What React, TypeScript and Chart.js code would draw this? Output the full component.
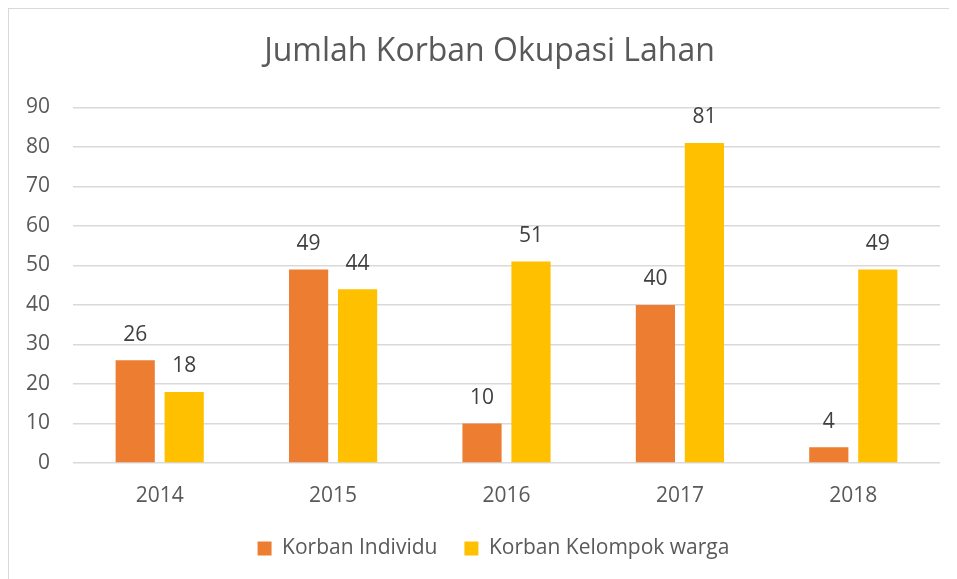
import React, { useEffect, useRef } from "react";
import { Chart, registerables } from "chart.js";

Chart.register(...registerables);

const categories = ["2014", "2015", "2016", "2017", "2018"];
const individu = [26, 49, 10, 40, 4];
const kelompok = [18, 44, 51, 81, 49];
const seriesNames = ["Korban Individu", "Korban Kelompok warga"];
const yTicks = [0, 10, 20, 30, 40, 50, 60, 70, 80, 90];

const FONT = "'Open Sans', sans-serif";

const dataLabels = {
  id: "dataLabels",
  afterDatasetsDraw(chart: any) {
    const ctx = chart.ctx;
    ctx.save();
    ctx.font = `21px ${FONT}`;
    ctx.fillStyle = "#404040";
    ctx.textAlign = "center";
    ctx.textBaseline = "bottom";
    chart.data.datasets.forEach((ds: any, i: number) => {
      const meta = chart.getDatasetMeta(i);
      meta.data.forEach((bar: any, j: number) => {
        ctx.fillText(String(ds.data[j]), bar.x, bar.y - 15);
      });
    });
    ctx.restore();
  },
};

// The original chart frame is wider than the visible window, so its title and
// legend are centred slightly right of the canvas centre.
const shiftBoxes = {
  id: "shiftBoxes",
  afterLayout(chart: any) {
    const t = chart.titleBlock;
    if (t) { t.left += 15; t.right += 15; }
    const l = chart.legend;
    if (l) { l.left += 19; l.right += 19; }
  },
};

export default function App() {
  const ref = useRef<HTMLCanvasElement>(null);
  useEffect(() => {
    if (!ref.current) return;
    const chart = new Chart(ref.current, {
      type: "bar",
      data: {
        labels: categories,
        datasets: [
          { label: seriesNames[0], data: individu, backgroundColor: "#ED7D31" },
          { label: seriesNames[1], data: kelompok, backgroundColor: "#FFC000" },
        ],
      },
      options: {
        animation: false,
        responsive: false,
        datasets: { bar: { categoryPercentage: 0.565, barPercentage: 0.8 } },
        layout: { padding: { left: 0, right: 17, top: 0, bottom: 10 } },
        plugins: {
          title: {
            display: true,
            text: "Jumlah Korban Okupasi Lahan",
            color: "#595959",
            font: { family: FONT, size: 32, weight: "normal" },
            padding: { top: 24, bottom: 36 },
          },
          legend: {
            position: "bottom",
            labels: {
              color: "#595959",
              font: { family: FONT, size: 21 },
              boxWidth: 14,
              boxHeight: 14,
              padding: 27,
            },
          },
          tooltip: { enabled: false },
        },
        scales: {
          x: {
            grid: { display: false },
            border: { display: false },
            ticks: { color: "#595959", font: { family: FONT, size: 21 }, padding: 12 },
            afterFit: (s: any) => { s.height = 48; },
          },
          y: {
            min: 0,
            max: 90,
            afterBuildTicks: (s: any) => { s.ticks = yTicks.map((v) => ({ value: v })); },
            grid: { color: "#D9D9D9", lineWidth: 1.5, drawTicks: false },
            border: { display: false },
            ticks: { color: "#595959", font: { family: FONT, size: 21 }, padding: 23 },
            afterFit: (s: any) => { s.width = 64; },
          },
        },
      },
      plugins: [dataLabels, shiftBoxes],
    });
    return () => chart.destroy();
  }, []);
  return (
    <div
      style={{
        width: 949,
        height: 571,
        borderLeft: "1px solid #D9D9D9",
        borderTop: "1px solid #D9D9D9",
        boxSizing: "border-box",
        background: "#fff",
      }}
    >
      <canvas ref={ref} width={948} height={570} style={{ display: "block" }} />
    </div>
  );
}
